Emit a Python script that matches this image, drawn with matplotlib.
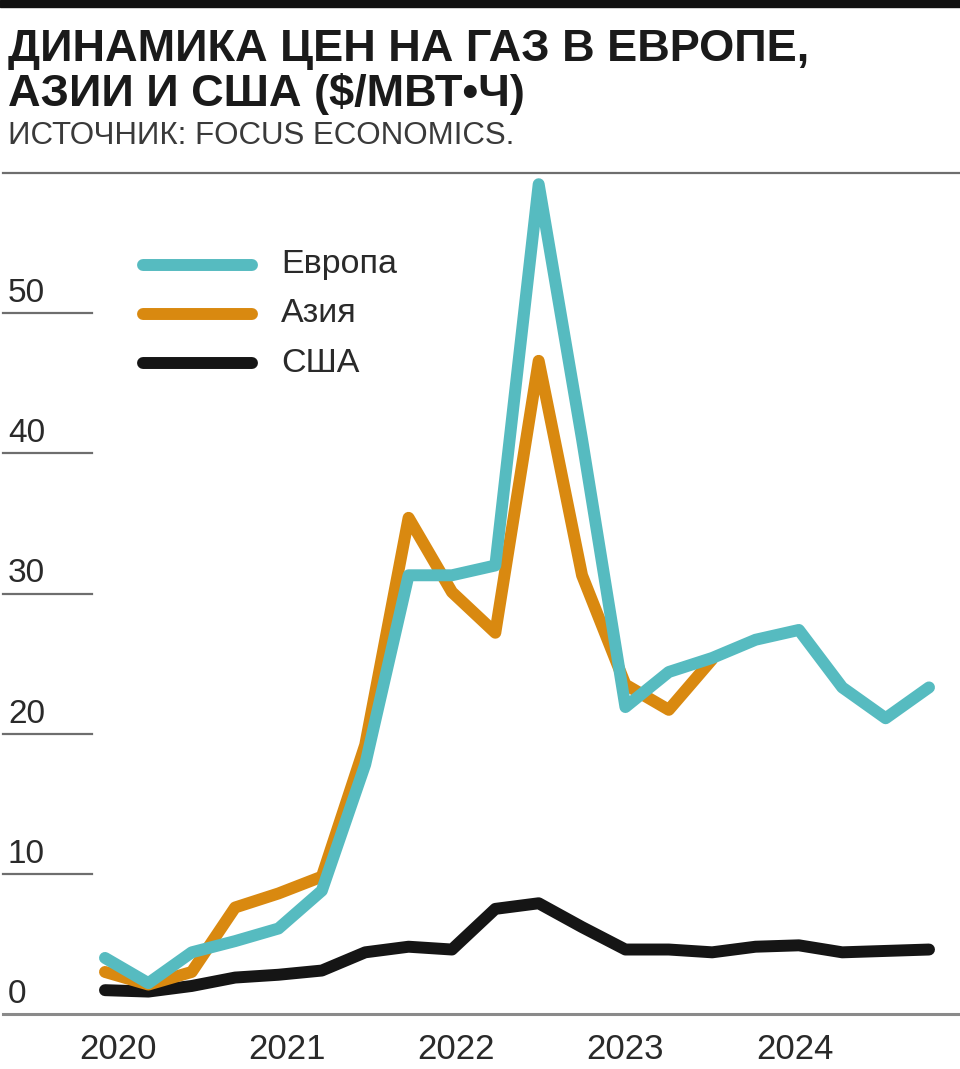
import matplotlib
matplotlib.use("Agg")
import matplotlib.pyplot as plt
import matplotlib.transforms as mtransforms

# ---- data (quarterly, 2020Q1 .. 2024Q4) ----
quarters = list(range(20))
europe = [4.0, 2.2, 4.4, 5.2, 6.1, 8.8, 17.8, 31.3, 31.3, 32.0, 59.2, 41.0,
          21.9, 24.4, 25.4, 26.7, 27.4, 23.3, 21.1, 23.3]
asia = [3.0, 2.1, 3.0, 7.6, 8.6, 9.8, 19.2, 35.4, 30.1, 27.2, 46.6, 31.3,
        23.5, 21.7, 25.3]
usa = [1.7, 1.6, 2.0, 2.6, 2.8, 3.1, 4.4, 4.8, 4.6, 7.5, 7.9, 6.2,
       4.6, 4.6, 4.4, 4.8, 4.9, 4.4, 4.5, 4.6]
year_labels = ["2020", "2021", "2022", "2023", "2024"]
year_pos = [0.3, 4.2, 8.1, 12.0, 15.9]
y_ticks = [0, 10, 20, 30, 40, 50]
series_names = ["Европа", "Азия", "США"]

title_lines = ["ДИНАМИКА ЦЕН НА ГАЗ В ЕВРОПЕ,", "АЗИИ И США ($/МВТ•Ч)"]
subtitle = "ИСТОЧНИК: FOCUS ECONOMICS."

C_EU = "#56BBC0"
C_AS = "#D98910"
C_US = "#151515"
SANS = ["Liberation Sans", "DejaVu Sans"]

W, H = 960, 1069
fig = plt.figure(figsize=(W / 100, H / 100), dpi=100)

x0_px, x19_px = 105, 929
y0_px, y60_px = 1014, 173
ax = fig.add_axes([0, (H - y0_px) / H, 1, (y0_px - y60_px) / H])
step = (x19_px - x0_px) / 19
ax.set_xlim(-x0_px / step, (W - x0_px) / step)
ax.set_ylim(0, 60)
for s in ax.spines.values():
    s.set_visible(False)
ax.set_yticks([])
ax.set_xticks([])

lw = 8.6
kw = dict(lw=lw, solid_capstyle="round", solid_joinstyle="round", clip_on=False)
ax.plot(quarters[:len(usa)], usa, color=C_US, zorder=3, **kw)
ax.plot(quarters[:len(asia)], asia, color=C_AS, zorder=4, **kw)
ax.plot(quarters[:len(europe)], europe, color=C_EU, zorder=5, **kw)

bt = mtransforms.blended_transform_factory(ax.transAxes, ax.transData)
for v in y_ticks[1:]:
    ax.plot([3 / W, 92 / W], [v, v], transform=bt, color="#6e6e6e", lw=1.6,
            clip_on=False, zorder=1)
off = mtransforms.offset_copy(bt, fig=fig, x=0, y=11, units="dots")
for v in y_ticks:
    ax.text(8 / W, v, str(v), transform=off, ha="left", va="baseline",
            fontsize=24, color="#2a2a2a", family=SANS)

ax.plot([3 / W, 1], [60, 60], transform=bt, color="#6e6e6e", lw=1.6, clip_on=False, zorder=1)
ax.plot([3 / W, 1], [0, 0], transform=bt, color="#8a8a8a", lw=2.2, clip_on=False, zorder=1)

for p, lab in zip(year_pos, year_labels):
    ax.text(p, 0, lab, transform=mtransforms.offset_copy(ax.transData, fig=fig, x=0, y=-19, units="dots"),
            ha="center", va="top", fontsize=25, color="#2a2a2a", family=SANS)

leg_x0, leg_x1, leg_tx = 143 / W, 252 / W, 281 / W
leg_y = [265, 314, 363]
for name, col, yy in zip(series_names, [C_EU, C_AS, C_US], leg_y):
    fy = (H - yy) / H
    fig.add_artist(plt.Line2D([leg_x0, leg_x1], [fy, fy], color=col, lw=lw,
                              solid_capstyle="round", transform=fig.transFigure))
    fig.text(leg_tx, fy, name, ha="left", va="center", fontsize=24.5,
             color="#2a2a2a", family=SANS)

fig.add_artist(plt.Rectangle((0, 1 - 7 / H), 1, 7 / H, color="#111111",
                             transform=fig.transFigure))

for line, base in zip(title_lines, [61, 106]):
    fig.text(8 / W, 1 - base / H, line, ha="left", va="baseline", fontsize=32.5,
             fontweight="bold", color="#1a1a1a", family=SANS)
fig.text(8 / W, 1 - 144 / H, subtitle, ha="left", va="baseline", fontsize=22.5,
         color="#3a3a3a", family=SANS)

fig.savefig("out.png", dpi=100, facecolor="white")
